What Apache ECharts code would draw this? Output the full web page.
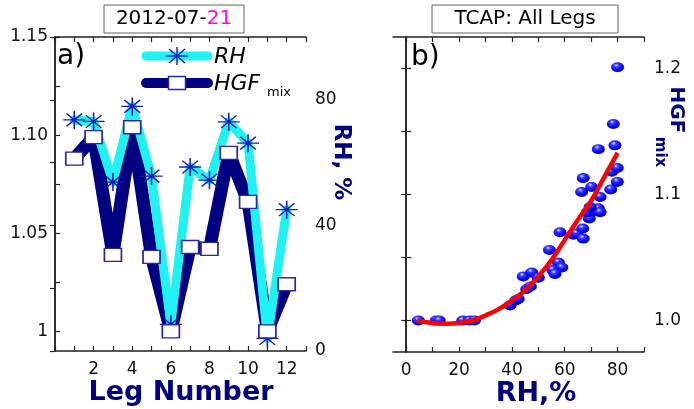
<!DOCTYPE html>
<html><head><meta charset="utf-8">
<script src="https://cdn.jsdelivr.net/npm/echarts@6/dist/echarts.min.js"></script>
<style>html,body{margin:0;padding:0;background:#fff}#c{width:694px;height:409px}</style>
</head><body><div id="c"></div><script>
// ---- Panel a) data ----
const legs = [1,2,3,4,5,6,7,8,9,10,11,12];
const rhValues = [73.6,73.1,53.8,77.9,55.7,8.5,58.6,54.4,73.0,66.2,4.0,45.0];
const hgfValues = [1.088,1.099,1.039,1.104,1.038,1.000,1.043,1.042,1.091,1.066,1.000,1.024];
// ---- Panel b) data ----
const scatterRH = [4.6,11.3,12.5,21.4,23.9,25.8,39.3,41.5,42.4,44.3,47.5,45.6,47.0,50.0,54.2,57.6,58.9,55.5,56.3,58.2,63.3,64.5,67.0,66.8,69.3,68.6,71.5,72.7,73.4,69.6,66.4,67.0,70.2,73.4,77.4,77.8,79.9,79.9,79.0,72.7,78.4,80.0];
const scatterHGF = [1.000,1.000,1.000,1.000,1.000,1.000,1.012,1.016,1.017,1.035,1.038,1.025,1.027,1.034,1.056,1.046,1.042,1.040,1.037,1.070,1.068,1.069,1.065,1.073,1.081,1.086,1.087,1.089,1.086,1.090,1.102,1.113,1.106,1.098,1.104,1.118,1.110,1.121,1.139,1.136,1.156,1.201];
const fitRH = [4,10,15,20,25,30,35,40,45,50,55,60,65,70,75,80];
const fitHGF = [1.000,0.998,0.9975,0.998,1.000,1.004,1.009,1.016,1.024,1.035,1.048,1.064,1.080,1.095,1.114,1.133];
// ---- tick labels ----
const legTickLabels = [2,4,6,8,10,12];
const hgfTickLabelsA = ['1','1.05','1.10','1.15'];
const hgfTickValuesA = [1.0,1.05,1.1,1.15];
const rhTickLabelsA = [0,40,80];
const rhTickLabelsB = [0,20,40,60,80];
const hgfTickLabelsB = [1.0,1.1,1.2];

const NAVY = '#000080', CYAN = '#1ef2f2', TXT = '#111';
const FONT = 'DejaVu Sans';
const STAR = 'path://M0 9.3L20 9.3L20 10.7L0 10.7ZM9.3 0L10.7 0L10.7 20L9.3 20ZM2.4 3.4L3.4 2.4L17.6 16.6L16.6 17.6ZM16.6 2.4L17.6 3.4L3.4 17.6L2.4 16.6Z';

const axLine = {show:true, lineStyle:{color:'#222', width:1.5}};
const tick = {show:true, inside:true, length:5, lineStyle:{color:'#222', width:1.2}};
const lab = {color:TXT, fontFamily:FONT, fontSize:17};

function fmtA(v){
  for (let i=0;i<hgfTickValuesA.length;i++) if (Math.abs(v-hgfTickValuesA[i])<1e-6) return hgfTickLabelsA[i];
  return '';
}

const chart = echarts.init(document.getElementById('c'), null, {renderer:'canvas'});
const option = {
  animation:false,
  backgroundColor:'#fff',
  grid:[
    {left:55, top:37, width:251, height:314},
    {left:393, top:37, width:251, height:315}
  ],
  xAxis:[
    {gridIndex:0, type:'value', position:'bottom', min:0, max:13, interval:1,
     axisLine:axLine, axisTick:tick, splitLine:{show:false},
     axisLabel:Object.assign({}, lab, {margin:10, formatter:v => legTickLabels.indexOf(v)>=0 ? String(v) : ''})},
    {gridIndex:0, type:'value', position:'top', min:0, max:13, interval:1,
     axisLine:axLine, axisTick:tick, splitLine:{show:false}, axisLabel:{show:false}},
    {gridIndex:1, type:'value', position:'bottom', min:-5, max:90,
     axisLine:axLine, axisTick:Object.assign({}, tick, {customValues:[0,10,20,30,40,50,60,70,80,90]}),
     splitLine:{show:false},
     axisLabel:Object.assign({}, lab, {margin:10, customValues:rhTickLabelsB, formatter:v=>String(v)})},
    {gridIndex:1, type:'value', position:'top', min:-5, max:90,
     axisLine:axLine, axisTick:Object.assign({}, tick, {customValues:[0,10,20,30,40,50,60,70,80,90]}),
     splitLine:{show:false}, axisLabel:{show:false}}
  ],
  yAxis:[
    {gridIndex:0, type:'value', position:'left', min:0.99, max:1.15,
     axisLine:axLine, axisTick:Object.assign({}, tick, {customValues:[1.0,1.025,1.05,1.075,1.1,1.125,1.15]}),
     splitLine:{show:false},
     axisLabel:Object.assign({}, lab, {margin:7, customValues:hgfTickValuesA, formatter:fmtA})},
    {gridIndex:0, type:'value', position:'right', min:0, max:100, interval:20,
     axisLine:axLine, axisTick:tick, splitLine:{show:false},
     axisLabel:Object.assign({}, lab, {margin:9, formatter:v => rhTickLabelsA.indexOf(v)>=0 ? String(v) : ''})},
    {gridIndex:1, type:'value', position:'right', min:0.975, max:1.225,
     axisLine:axLine, axisTick:Object.assign({}, tick, {customValues:[1.0,1.05,1.1,1.15,1.2]}),
     splitLine:{show:false},
     axisLabel:Object.assign({}, lab, {margin:10, customValues:hgfTickLabelsB, formatter:v=>v.toFixed(1)})},
    {gridIndex:1, type:'value', position:'left', min:0.975, max:1.225,
     axisLine:axLine, axisTick:Object.assign({}, tick, {customValues:[1.0,1.05,1.1,1.15,1.2]}),
     splitLine:{show:false}, axisLabel:{show:false}}
  ],
  series:[
    {type:'line', name:'HGF', xAxisIndex:0, yAxisIndex:0, z:2, symbol:'none',
     data:legs.map((l,i)=>[l,hgfValues[i]]),
     lineStyle:{color:NAVY, width:13, join:'round', cap:'round'}},
    {type:'line', name:'RH', xAxisIndex:0, yAxisIndex:1, z:3, symbol:'none',
     data:legs.map((l,i)=>[l,rhValues[i]]),
     lineStyle:{color:CYAN, width:9, join:'round', cap:'round'}},
    {type:'scatter', xAxisIndex:0, yAxisIndex:1, z:4, symbol:STAR, symbolSize:[22,18],
     data:legs.map((l,i)=>[l,rhValues[i]]),
     itemStyle:{color:'#1a1ab4', opacity:1}},
    {type:'scatter', xAxisIndex:0, yAxisIndex:0, z:5, symbol:'rect', symbolSize:[17,13],
     data:legs.map((l,i)=>[l,hgfValues[i]]),
     itemStyle:{color:'#fff', borderColor:'#2828a0', borderWidth:1.5, opacity:1}},
    {type:'scatter', xAxisIndex:2, yAxisIndex:2, z:3, symbol:'circle', symbolSize:[13,10],
     data:scatterRH.map((r,i)=>[r,scatterHGF[i]]),
     itemStyle:{opacity:1, color:{type:'radial', x:0.4, y:0.3, r:0.75,
       colorStops:[{offset:0,color:'#e0e0ff'},{offset:0.25,color:'#3a3aff'},{offset:0.7,color:'#0000f4'},{offset:1,color:'#0000a8'}]}}},
    {type:'line', xAxisIndex:2, yAxisIndex:2, z:4, symbol:'none', smooth:true,
     data:fitRH.map((r,i)=>[r,fitHGF[i]]),
     lineStyle:{color:'#ff0000', width:4.5}}
  ],
  graphic:[
    // title boxes
    {type:'rect', shape:{x:104, y:5, width:140, height:28}, style:{fill:'#fff', stroke:'#666', lineWidth:1}, z:10},
    {type:'text', x:174, y:19, z:11, style:{text:'2012-07-{m|21}', fill:'#000', font:'20px "DejaVu Sans"', align:'center', verticalAlign:'middle',
      rich:{m:{fill:'#ff00ff', font:'20px "DejaVu Sans"'}}}},
    {type:'rect', shape:{x:432, y:5, width:186, height:28}, style:{fill:'#fff', stroke:'#666', lineWidth:1}, z:10},
    {type:'text', x:525, y:19, z:11, style:{text:'TCAP: All Legs', fill:'#000', font:'20px "DejaVu Sans"', align:'center', verticalAlign:'middle'}},
    // panel letters
    {type:'text', x:57, y:57, z:11, style:{text:'a)', fill:'#000', font:'28px "DejaVu Sans"', align:'left', verticalAlign:'middle'}},
    {type:'text', x:411, y:58, z:11, style:{text:'b)', fill:'#000', font:'28px "DejaVu Sans"', align:'left', verticalAlign:'middle'}},
    // legend
    {type:'line', z:11, shape:{x1:146, y1:56, x2:208, y2:56}, style:{stroke:CYAN, lineWidth:9, lineCap:'round'}},
    {type:'line', z:12, shape:{x1:166, y1:56, x2:188, y2:56}, style:{stroke:'#1a1ab4', lineWidth:1.4}},
    {type:'line', z:12, shape:{x1:177, y1:47, x2:177, y2:65}, style:{stroke:'#1a1ab4', lineWidth:1.4}},
    {type:'line', z:12, shape:{x1:169, y1:49, x2:185, y2:63}, style:{stroke:'#1a1ab4', lineWidth:1.4}},
    {type:'line', z:12, shape:{x1:185, y1:49, x2:169, y2:63}, style:{stroke:'#1a1ab4', lineWidth:1.4}},
    {type:'line', z:11, shape:{x1:146, y1:83, x2:208, y2:83}, style:{stroke:NAVY, lineWidth:10, lineCap:'round'}},
    {type:'rect', z:12, shape:{x:168.5, y:76.5, width:17, height:13}, style:{fill:'#fff', stroke:'#2828a0', lineWidth:1.5}},
    {type:'text', x:214, y:57, z:11, style:{text:'RH', fill:'#000', font:'italic 22px "DejaVu Sans"', align:'left', verticalAlign:'middle'}},
    {type:'text', x:214, y:84, z:11, style:{text:'HGF', fill:'#000', font:'italic 22px "DejaVu Sans"', align:'left', verticalAlign:'middle'}},
    {type:'text', x:267, y:93, z:11, style:{text:'mix', fill:'#000', font:'13px "DejaVu Sans"', align:'left', verticalAlign:'middle'}},
    // axis titles
    {type:'text', x:181, y:393, z:11, style:{text:'Leg Number', fill:NAVY, font:'bold 27px "DejaVu Sans"', align:'center', verticalAlign:'middle'}},
    {type:'text', x:536, y:394, z:11, style:{text:'RH,%', fill:NAVY, font:'bold 27px "DejaVu Sans"', align:'center', verticalAlign:'middle'}},
    {type:'text', x:341, y:162, z:11, rotation:-Math.PI/2, style:{text:'RH, %', fill:NAVY, font:'bold 23px "DejaVu Sans"', align:'center', verticalAlign:'middle'}},
    {type:'text', x:676, y:110, z:11, rotation:-Math.PI/2, style:{text:'HGF', fill:NAVY, font:'bold 20px "DejaVu Sans"', align:'center', verticalAlign:'middle'}},
    {type:'text', x:660, y:152, z:11, rotation:-Math.PI/2, style:{text:'mix', fill:NAVY, font:'bold 15px "DejaVu Sans"', align:'center', verticalAlign:'middle'}}
  ]
};
chart.setOption(option);
</script></body></html>
